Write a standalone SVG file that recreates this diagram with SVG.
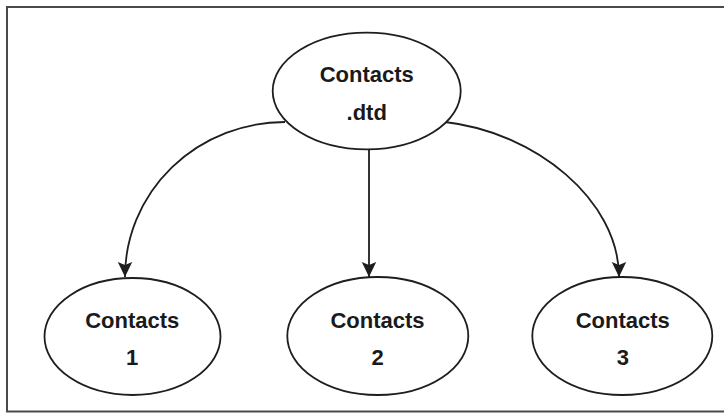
<svg xmlns="http://www.w3.org/2000/svg" width="724" height="414" viewBox="0 0 724 414">
  <style>
    .node ellipse { fill: #ffffff; stroke: #1e1e1e; stroke-width: 1.8; }
    .node text { font-family: "Liberation Sans", Arial, sans-serif; font-weight: 700; font-size: 22px; fill: #1a1a1a; text-anchor: middle; }
    .edge { fill: none; stroke: #1e1e1e; stroke-width: 1.8; marker-end: url(#arrow); }
    .frame { fill: none; stroke: #4a4a4a; stroke-width: 2; }
  </style>
  <defs>
    <marker id="arrow" markerUnits="userSpaceOnUse" markerWidth="16" markerHeight="16" viewBox="0 0 16 16" refX="15" refY="8" orient="auto">
      <path d="M0,0.8 L15,8 L0,15.2 L3,8 Z" fill="#1e1e1e"/>
    </marker>
  </defs>

  <rect width="724" height="414" fill="#ffffff"/>
  <!-- outer frame; the right edge runs past the canvas -->
  <rect class="frame" x="7" y="7" width="740" height="404.5"/>

  <g id="connectors">
    <path class="edge" d="M285,122 A160,155 0 0 0 125,277"/>
    <path class="edge" d="M369,149.5 L369,277"/>
    <path class="edge" d="M445,122 C535,132 619,200 619,277"/>
  </g>

  <g id="contacts-dtd" class="node">
    <ellipse cx="366.7" cy="91" rx="94" ry="58.3"/>
    <text x="366.7" y="81.7">Contacts</text>
    <text x="366.7" y="120">.dtd</text>
  </g>

  <g id="contacts-1" class="node">
    <ellipse cx="132.5" cy="336.5" rx="88" ry="58.5"/>
    <text x="132.2" y="327.5">Contacts</text>
    <text x="132.2" y="365">1</text>
  </g>

  <g id="contacts-2" class="node">
    <ellipse cx="377.8" cy="336" rx="90.5" ry="59"/>
    <text x="377.5" y="327.5">Contacts</text>
    <text x="377.5" y="365">2</text>
  </g>

  <g id="contacts-3" class="node">
    <ellipse cx="622.3" cy="336" rx="90" ry="59"/>
    <text x="622.8" y="327.5">Contacts</text>
    <text x="622.8" y="365">3</text>
  </g>
</svg>
